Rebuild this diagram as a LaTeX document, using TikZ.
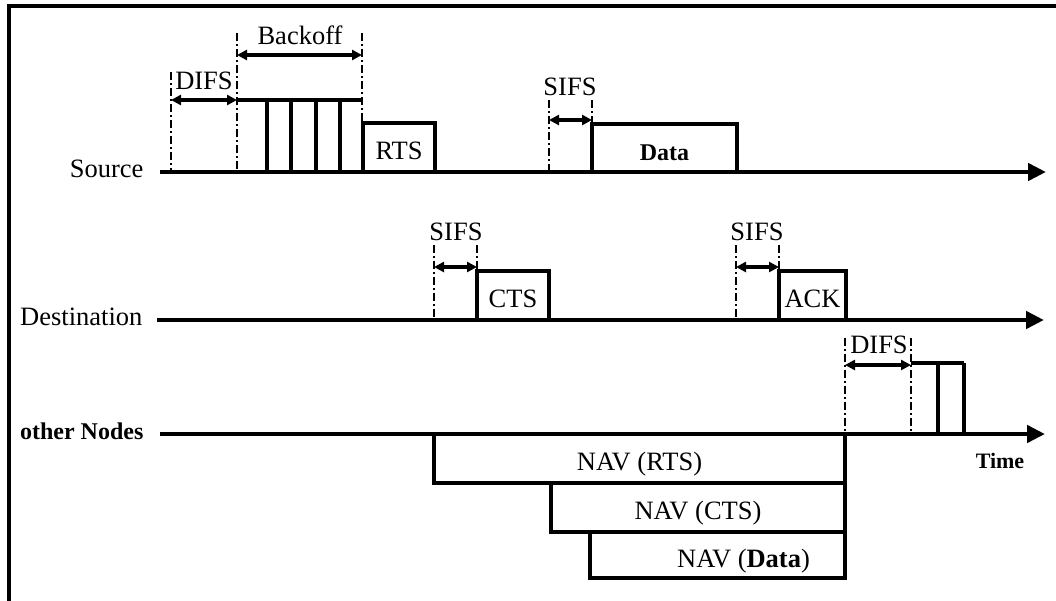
\documentclass[tikz,border=0pt]{standalone}
\usepackage{fontspec}
\setmainfont{Liberation Serif}
\usetikzlibrary{arrows.meta}
\newcommand{\lblfont}{\fontsize{26.5}{30}\selectfont}
\newcommand{\boldfont}{\fontsize{24}{28}\selectfont\bfseries}
\begin{document}
\begin{tikzpicture}[x=1pt,y=-1pt,>={Triangle[length=18pt,width=17pt]},line width=3.2pt]
  \tikzstyle{timeline}=[->, line width=4.5pt]
  \tikzstyle{guide}=[line width=2.8pt, dash pattern=on 8pt off 3pt on 2pt off 3pt]
  \tikzstyle{span}=[{Triangle[length=10pt,width=10pt]}-{Triangle[length=10pt,width=10pt]}, line width=3.2pt]
  \tikzstyle{pktbox}=[draw, line width=3.2pt, inner sep=0pt, outer sep=0pt, minimum height=49pt,
    anchor=south west, text height=24.5pt, text depth=0pt, font=\lblfont]
  \tikzstyle{navbox}=[draw, line width=3.2pt, inner sep=0pt, outer sep=0pt, minimum height=49pt,
    anchor=north west, text height=24.5pt, text depth=0pt, font=\lblfont]
  \tikzstyle{lbl}=[inner sep=0pt, anchor=base, font=\lblfont]

  \useasboundingbox (0,0) rectangle (1056,600);
  \draw[line width=3.4pt] (9,602) -- (9,6) -- (1060,6);

  % time lines
  \coordinate (srcS) at (160,172);  \coordinate (srcE) at (1046,172);
  \coordinate (dstS) at (157,320);  \coordinate (dstE) at (1044,320);
  \coordinate (othS) at (160,434);  \coordinate (othE) at (1045,434);
  \draw[timeline] (srcS) -- (srcE);
  \draw[timeline] (dstS) -- (dstE);
  \draw[timeline] (othS) -- (othE);
  \node[lbl, anchor=base east] (srclbl) at (145,177) {Source};
  \node[lbl, anchor=base east] (dstlbl) at (144,325) {Destination};
  \node[lbl, anchor=base east, font=\boldfont] (othlbl) at (145,439) {other Nodes};
  \node[lbl, font=\fontsize{22}{26}\selectfont\bfseries] (timelbl) at (1000,468) {Time};

  % source: DIFS, backoff, RTS, SIFS, Data
  \draw[guide] (171,72) -- (171,172);
  \draw[guide] (237,33) -- (237,172);
  \draw[guide] (362,33) -- (362,123);
  \draw (237,100) -- (362,100);
  \foreach \x in {267,291,316,340} \draw (\x,100) -- (\x,172);
  \coordinate (difsL) at (171,100);  \coordinate (difsR) at (237,100);
  \coordinate (boffL) at (237,55);   \coordinate (boffR) at (362,55);
  \draw[span] (difsL) -- (difsR);
  \draw[span] (boffL) -- (boffR);
  \node[lbl] (difslbl) at (204,89) {DIFS};
  \node[lbl] (bofflbl) at (300,44) {Backoff};
  \node[pktbox, minimum width=72pt] (rts) at (363,172) {RTS};

  \draw[guide] (549,100) -- (549,172);
  \draw[guide] (592,100) -- (592,124);
  \coordinate (sifsAL) at (549,120); \coordinate (sifsAR) at (592,120);
  \draw[span] (sifsAL) -- (sifsAR);
  \node[lbl] (sifsAlbl) at (570,95) {SIFS};
  \node[pktbox, minimum width=145pt, minimum height=48pt, font=\boldfont] (data) at (592,172) {Data};

  % destination: SIFS, CTS, SIFS, ACK
  \draw[guide] (434,245) -- (434,320);
  \draw[guide] (477,245) -- (477,271);
  \coordinate (sifsBL) at (434,267); \coordinate (sifsBR) at (477,267);
  \draw[span] (sifsBL) -- (sifsBR);
  \node[lbl] (sifsBlbl) at (456,240) {SIFS};
  \node[pktbox, minimum width=72pt] (cts) at (477,320) {CTS};

  \draw[guide] (736,245) -- (736,320);
  \draw[guide] (779,245) -- (779,271);
  \coordinate (sifsCL) at (736,267); \coordinate (sifsCR) at (779,267);
  \draw[span] (sifsCL) -- (sifsCR);
  \node[lbl] (sifsClbl) at (757,240) {SIFS};
  \node[pktbox, minimum width=67pt] (ack) at (779,320) {ACK};

  % other nodes: NAV, DIFS, backoff
  \node[navbox, minimum width=411pt] (navrts) at (434,434) {NAV (RTS)};
  \node[navbox, minimum width=294pt] (navcts) at (551,483) {NAV (CTS)};
  \node[navbox, minimum width=255pt, minimum height=46pt] (navdata) at (590,532) {};
  \node[lbl, anchor=center, text height=24.5pt, text depth=0pt] (navdatalbl) at ([xshift=26pt]navdata.center) {NAV (\textbf{Data})};

  \draw[guide] (845,338) -- (845,434);
  \draw[guide] (911,338) -- (911,434);
  \draw (911,363) -- (964,363);
  \foreach \x in {938,964} \draw (\x,363) -- (\x,434);
  \coordinate (difsOL) at (845,365); \coordinate (difsOR) at (911,365);
  \draw[span] (difsOL) -- (difsOR);
  \node[lbl] (difsOlbl) at (879,353) {DIFS};
\end{tikzpicture}
\end{document}
